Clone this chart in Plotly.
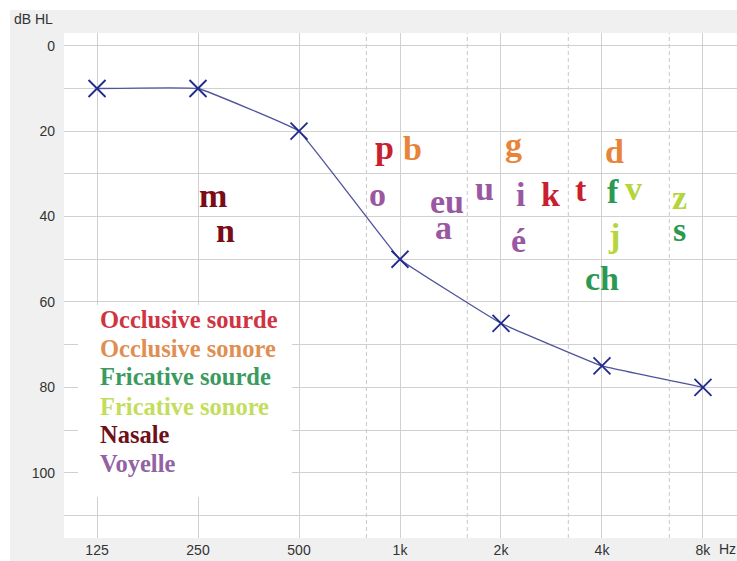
import math
import plotly.graph_objects as go

# ---------------- data ----------------
freqs = [125, 250, 500, 1000, 2000, 4000, 8000]
freq_labels = ["125", "250", "500", "1k", "2k", "4k", "8k"]
thresholds_db = [10, 10, 20, 50, 65, 75, 80]

# intermediate (dashed) frequency lines
mid_freqs = [794, 1587, 3175, 6350]

db_ticks = [0, 10, 20, 30, 40, 50, 60, 70, 80, 90, 100, 110]
db_labels = ["0", "", "20", "", "40", "", "60", "", "80", "", "100", ""]

# phonemes: text, frequency (Hz), level (dB HL, baseline), category
phon_text = ["p", "b", "g", "d", "o", "eu", "u", "i", "k", "t", "f", "v", "z",
             "a", "é", "j", "s", "ch", "m", "n"]
phon_freq = [902, 1086, 2172, 4344, 854, 1380, 1780, 2279, 2800, 3464, 4315, 4983, 6829,
             1344, 2263, 4344, 6829, 4000, 277, 301]
phon_db = [26.5, 26.7, 25.6, 27.4, 37.5, 39.1, 36.1, 37.5, 37.5, 36.3, 36.8, 35.9, 38.2,
           45.2, 48.3, 47.1, 45.5, 57.0, 37.7, 45.9]
phon_cat = ["OS", "ON", "ON", "ON", "V", "V", "V", "V", "OS", "OS", "FS", "FN", "FN",
            "V", "V", "FN", "FS", "FS", "N", "N"]

legend_cats = ["OS", "ON", "FS", "FN", "N", "V"]
legend_labels = ["Occlusive sourde", "Occlusive sonore", "Fricative sourde",
                 "Fricative sonore", "Nasale", "Voyelle"]

# ---------------- style ----------------
cat_colors = {"OS": "#c8202f", "ON": "#e8843a", "FS": "#2b9a50", "FN": "#b6d53c",
              "N": "#7a0c15", "V": "#9a57a2"}
legend_colors = {"OS": "#cf3442", "ON": "#e08f52", "FS": "#3a9b5e", "FN": "#c3dd5c",
                 "N": "#6f0f19", "V": "#9262a2"}

W, H = 737, 561
# plot area in window pixels: x 64..737, y 33..538
ML, MT, MR, MB = 64, 33, 0, H - 538
PW, PH = W - ML - MR, H - MT - MB
GRID = "#d0d0d0"
GRAY = "#f0f0f0"


def px_to_paper_x(px):
    return (px - ML) / PW


def px_to_paper_y(py):
    return (H - MB - py) / PH


fig = go.Figure()

fig.add_trace(go.Scatter(
    x=freqs, y=thresholds_db, mode="lines+markers",
    line=dict(color="#50549a", width=1.3, shape="spline", smoothing=0.2),
    marker=dict(symbol="x-thin", size=17, line=dict(color="#1f2a8c", width=1.8),
                color="#1f2a8c"),
    hoverinfo="skip", showlegend=False,
))

shapes = []
# gray frame outside the plot area (thin white strip top/left remains)
gx0 = px_to_paper_x(10)
gyt = px_to_paper_y(10)
gyb = px_to_paper_y(H + 2)
shapes.append(dict(type="rect", xref="paper", yref="paper", x0=gx0, x1=1.01, y0=1, y1=gyt,
                   fillcolor=GRAY, line_width=0, layer="below"))
shapes.append(dict(type="rect", xref="paper", yref="paper", x0=gx0, x1=0, y0=gyb, y1=gyt,
                   fillcolor=GRAY, line_width=0, layer="below"))
shapes.append(dict(type="rect", xref="paper", yref="paper", x0=gx0, x1=1.01, y0=gyb, y1=0,
                   fillcolor=GRAY, line_width=0, layer="below"))
# dashed intermediate lines
for f in mid_freqs:
    shapes.append(dict(type="line", xref="x", yref="paper", x0=f, x1=f, y0=0, y1=1,
                       line=dict(color="#c8c8c8", width=1, dash="4px,3px"), layer="below"))
# legend white box
shapes.append(dict(type="rect", xref="paper", yref="paper",
                   x0=px_to_paper_x(78), x1=px_to_paper_x(292),
                   y0=px_to_paper_y(497), y1=px_to_paper_y(305),
                   fillcolor="white", line_width=0, layer="above"))

annotations = []
FS_PH = 34
for t, f, d, c in zip(phon_text, phon_freq, phon_db, phon_cat):
    annotations.append(dict(
        x=math.log10(f), y=d, xref="x", yref="y", text="<b>%s</b>" % t, showarrow=False,
        xanchor="center", yanchor="middle", yshift=round(0.3375 * FS_PH),
        font=dict(family="Liberation Serif, Times New Roman, serif", size=FS_PH,
                  color=cat_colors[c]),
    ))

leg_y = [319, 348, 377, 406, 434, 463]
for cat, lab, yy in zip(legend_cats, legend_labels, leg_y):
    annotations.append(dict(
        x=px_to_paper_x(98), y=px_to_paper_y(yy), xref="paper", yref="paper",
        text="<b>%s</b>" % lab, showarrow=False, xanchor="left", yanchor="middle",
        font=dict(family="Liberation Serif, Times New Roman, serif", size=24.5,
                  color=legend_colors[cat]),
    ))

# axis unit labels
annotations.append(dict(x=px_to_paper_x(12), y=px_to_paper_y(19), xref="paper", yref="paper",
                        text="dB HL", showarrow=False, xanchor="left", yanchor="middle",
                        font=dict(family="Liberation Sans, Arial, sans-serif", size=14,
                                  color="#333333")))
annotations.append(dict(x=px_to_paper_x(718), y=px_to_paper_y(549), xref="paper", yref="paper",
                        text="Hz", showarrow=False, xanchor="left", yanchor="middle",
                        borderpad=0,
                        font=dict(family="Liberation Sans, Arial, sans-serif", size=14,
                                  color="#333333")))

lo = math.log10(125) - 0.327 * math.log10(2)
hi = math.log10(125) + 6.337 * math.log10(2)

fig.update_layout(
    width=W, height=H, autosize=False,
    margin=dict(l=ML, r=MR, t=MT, b=MB, pad=0),
    paper_bgcolor="white", plot_bgcolor="white",
    shapes=shapes, annotations=annotations,
    font=dict(family="Liberation Sans, Arial, sans-serif", size=14, color="#333333"),
    xaxis=dict(type="log", range=[lo, hi], tickmode="array", tickvals=freqs,
               ticktext=freq_labels, showgrid=True, gridcolor=GRID, gridwidth=1,
               zeroline=False, showline=False, ticks="", ticklabelstandoff=2,
               fixedrange=True),
    yaxis=dict(range=[115.3, -3], tickmode="array", tickvals=db_ticks, ticktext=db_labels,
               showgrid=True, gridcolor=GRID, gridwidth=1, zeroline=False, showline=False,
               ticks="", ticklabelstandoff=8, fixedrange=True),
)

# the page body has a default 8px margin; remove it so the figure fills the window
fig.write_html("out.html", config={"displayModeBar": False},
               post_script="document.body.style.margin='0';document.body.style.overflow='hidden';")
